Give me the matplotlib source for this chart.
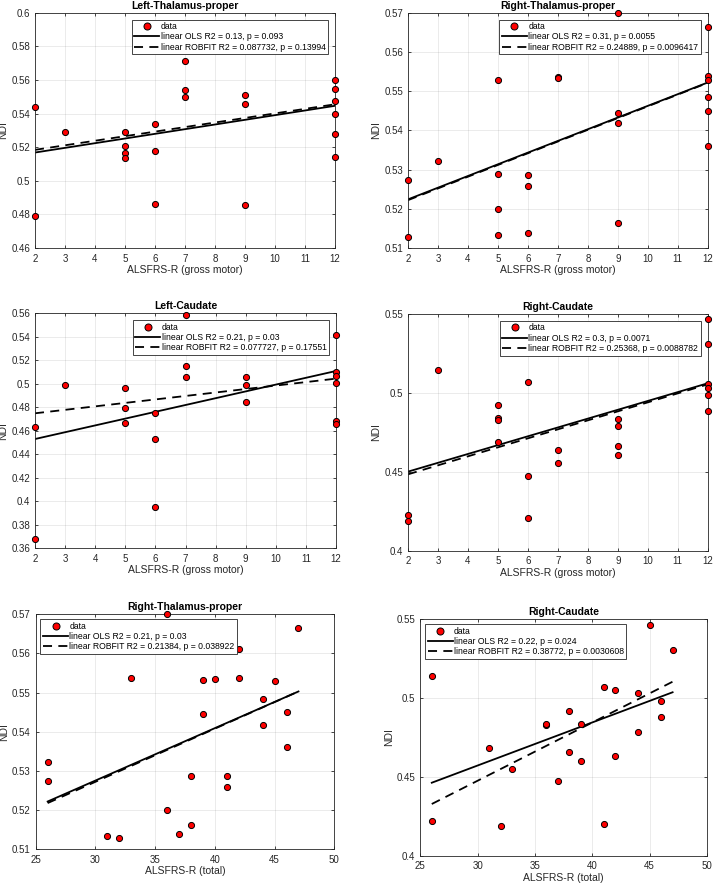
import numpy as np
import matplotlib
matplotlib.use("Agg")
import matplotlib.pyplot as plt
from matplotlib.ticker import FuncFormatter

plt.rcParams['font.family'] = ['Liberation Sans', 'DejaVu Sans']

# ── Data ────────────────────────────────────────────────────────────────────

# Left-Thalamus-proper vs gross motor
lt_x = [2, 2, 3, 5, 5, 5, 5, 6, 6, 6, 7, 7, 7, 9, 9, 9, 12, 12, 12, 12, 12, 12]
lt_y = [0.544, 0.4792, 0.5289, 0.5290, 0.5204, 0.5164, 0.5137, 0.5335, 0.5176,
        0.4861, 0.5711, 0.5543, 0.5497, 0.5511, 0.5457, 0.4857, 0.5600, 0.5547,
        0.5475, 0.5398, 0.5281, 0.5139]
lt_ols = [0.5168, 0.5446]
lt_rob = [0.5184, 0.5455]

# Right-Thalamus-proper vs gross motor
rt_x = [2, 2, 3, 5, 5, 5, 5, 6, 6, 6, 7, 7, 9, 9, 9, 9, 12, 12, 12, 12, 12, 12]
rt_y = [0.5274, 0.5128, 0.5322, 0.5529, 0.5288, 0.5200, 0.5134, 0.5286, 0.5258,
        0.5139, 0.5536, 0.5534, 0.5700, 0.5444, 0.5418, 0.5163, 0.5663, 0.5538,
        0.5528, 0.5484, 0.5450, 0.5360]
rt_ols = [0.5224, 0.5522]
rt_rob = [0.5222, 0.5521]

# Left-Caudate vs gross motor
lc_x = [2, 2, 3, 5, 5, 5, 6, 6, 6, 7, 7, 7, 9, 9, 9, 12, 12, 12, 12, 12, 12]
lc_y = [0.4630, 0.3679, 0.4987, 0.4965, 0.4794, 0.4667, 0.4752, 0.4530, 0.3955,
        0.5586, 0.5152, 0.5055, 0.5061, 0.4990, 0.4843, 0.5413, 0.5098, 0.5070,
        0.5007, 0.4684, 0.4655]
lc_ols = [0.4530, 0.5109]
lc_rob = [0.4749, 0.5044]

# Right-Caudate vs gross motor
rc_x = [2, 2, 3, 5, 5, 5, 5, 6, 6, 6, 7, 7, 9, 9, 9, 9, 12, 12, 12, 12, 12, 12]
rc_y = [0.4228, 0.4190, 0.5147, 0.4925, 0.4839, 0.4830, 0.4691, 0.5071, 0.4475,
        0.4205, 0.4638, 0.4554, 0.4837, 0.4790, 0.4663, 0.4604, 0.5466, 0.5308,
        0.5054, 0.5033, 0.4987, 0.4885]
rc_ols = [0.4501, 0.5061]
rc_rob = [0.4484, 0.5054]

# Right-Thalamus-proper vs total
rtt_x = [26, 26, 31, 32, 33, 36, 36, 37, 38, 38, 39, 39, 40, 41, 41, 42, 42,
         44, 44, 45, 46, 46, 47]
rtt_y = [0.5323, 0.5274, 0.5134, 0.5128, 0.5537, 0.5700, 0.5200, 0.5138, 0.5288,
         0.5162, 0.5531, 0.5445, 0.5534, 0.5286, 0.5258, 0.5611, 0.5538, 0.5485,
         0.5417, 0.5529, 0.5451, 0.5360, 0.5664]
rtt_ols = [0.5222, 0.5503]
rtt_rob = [0.5218, 0.5503]

# Right-Caudate vs total
rct_x = [26, 26, 31, 32, 33, 36, 36, 37, 38, 38, 39, 39, 41, 41, 42, 42, 44, 44,
         45, 46, 46, 47]
rct_y = [0.5142, 0.4222, 0.4685, 0.4186, 0.4548, 0.4831, 0.4838, 0.4472, 0.4920,
         0.4660, 0.4834, 0.4601, 0.5068, 0.4199, 0.5049, 0.4635, 0.5033, 0.4785,
         0.5464, 0.4984, 0.4882, 0.5305]
rct_ols = [0.4463, 0.5037]
rct_rob = [0.4328, 0.5104]

GM_LABEL = "ALSFRS-R (gross motor)"
TOT_LABEL = "ALSFRS-R (total)"

# ── Plot ────────────────────────────────────────────────────────────────────

W, H = 714, 885
fig = plt.figure(figsize=(W / 100, H / 100), dpi=100)

DARK = (0.15, 0.15, 0.15)


def px_axes(left, top, right, bottom):
    return fig.add_axes([left / W, 1 - bottom / H, (right - left) / W, (bottom - top) / H])


def fmt_g(v, _):
    return f"{v:g}"


def panel(ax, x, y, xfit, ols, rob, title, xlabel, xlim, xticks, ylim, yticks,
          ols_txt, rob_txt, loc, legpad):
    ax.plot(x, y, 'o', color='red', mec='black', mew=0.7, ms=4.4, label='data',
            zorder=3, clip_on=False)
    ax.plot(xfit, ols, '-', color='black', lw=1.3, label=ols_txt, zorder=2)
    ax.plot(xfit, rob, color='black', lw=1.3, dashes=(5, 3.5), label=rob_txt,
            zorder=2)
    ax.set_xlim(xlim)
    ax.set_ylim(ylim)
    ax.set_xticks(xticks)
    ax.set_yticks(yticks)
    ax.yaxis.set_major_formatter(FuncFormatter(fmt_g))
    ax.xaxis.set_major_formatter(FuncFormatter(fmt_g))
    ax.grid(True, color=DARK, alpha=0.11, lw=0.6)
    ax.set_axisbelow(True)
    for s in ax.spines.values():
        s.set_color(DARK)
        s.set_linewidth(0.6)
    ax.tick_params(direction='in', length=2.5, width=0.6, colors=DARK,
                   labelsize=7, top=True, right=True)
    ax.tick_params(axis='x', pad=4)
    ax.tick_params(axis='y', pad=3.5)
    ax.set_title(title, fontsize=7.5, fontweight='bold', color='black', pad=3)
    ax.set_xlabel(xlabel, fontsize=7.5, color=DARK, labelpad=1)
    ax.set_ylabel("NDI", fontsize=7.5, color=DARK, labelpad=2)
    leg = ax.legend(loc=loc, fontsize=6.2, frameon=True, fancybox=False,
                    framealpha=1, edgecolor=DARK, handlelength=2.9,
                    handletextpad=0.15, borderpad=0.3, labelspacing=0.15,
                    borderaxespad=legpad, numpoints=1, markerscale=1.15)
    leg.get_frame().set_linewidth(0.6)
    leg.set_zorder(5)


gm_ticks = [2, 3, 4, 5, 6, 7, 8, 9, 10, 11, 12]
tot_ticks = [25, 30, 35, 40, 45, 50]

ax1 = px_axes(35, 12.7, 335, 248)
panel(ax1, lt_x, lt_y, [2, 12], lt_ols, lt_rob, "Left-Thalamus-proper", GM_LABEL,
      (2, 12), gm_ticks, (0.46, 0.6), np.arange(0.46, 0.601, 0.02),
      "linear OLS R2 = 0.13, p = 0.093",
      "linear ROBFIT R2 = 0.087732, p = 0.13994", 'upper right', 0.8)

ax2 = px_axes(408, 12.7, 707.7, 248)
panel(ax2, rt_x, rt_y, [2, 12], rt_ols, rt_rob, "Right-Thalamus-proper", GM_LABEL,
      (2, 12), gm_ticks, (0.51, 0.57), np.arange(0.51, 0.5701, 0.01),
      "linear OLS R2 = 0.31, p = 0.0055",
      "linear ROBFIT R2 = 0.24889, p = 0.0096417", 'upper right', 0.8)

ax3 = px_axes(35, 313.3, 336, 548.3)
panel(ax3, lc_x, lc_y, [2, 12], lc_ols, lc_rob, "Left-Caudate", GM_LABEL,
      (2, 12), gm_ticks, (0.36, 0.56), np.arange(0.36, 0.561, 0.02),
      "linear OLS R2 = 0.21, p = 0.03",
      "linear ROBFIT R2 = 0.077727, p = 0.17551", 'upper right', 0.8)

ax4 = px_axes(408, 314, 707.7, 550.7)
panel(ax4, rc_x, rc_y, [2, 12], rc_ols, rc_rob, "Right-Caudate", GM_LABEL,
      (2, 12), gm_ticks, (0.4, 0.55), np.arange(0.4, 0.551, 0.05),
      "linear OLS R2 = 0.3, p = 0.0071",
      "linear ROBFIT R2 = 0.25368, p = 0.0088782", 'upper right', 0.8)

ax5 = px_axes(35.7, 614.3, 334.3, 849.3)
panel(ax5, rtt_x, rtt_y, [26, 47], rtt_ols, rtt_rob, "Right-Thalamus-proper",
      TOT_LABEL, (25, 50), tot_ticks, (0.51, 0.57), np.arange(0.51, 0.5701, 0.01),
      "linear OLS R2 = 0.21, p = 0.03",
      "linear ROBFIT R2 = 0.21384, p = 0.038922", 'upper left', 0.55)

ax6 = px_axes(420.3, 619.3, 707, 855.7)
panel(ax6, rct_x, rct_y, [26, 47], rct_ols, rct_rob, "Right-Caudate",
      TOT_LABEL, (25, 50), tot_ticks, (0.4, 0.55), np.arange(0.4, 0.551, 0.05),
      "linear OLS R2 = 0.22, p = 0.024",
      "linear ROBFIT R2 = 0.38772, p = 0.0030608", 'upper left', 0.55)

fig.savefig("out.png", dpi=100, facecolor='white')
